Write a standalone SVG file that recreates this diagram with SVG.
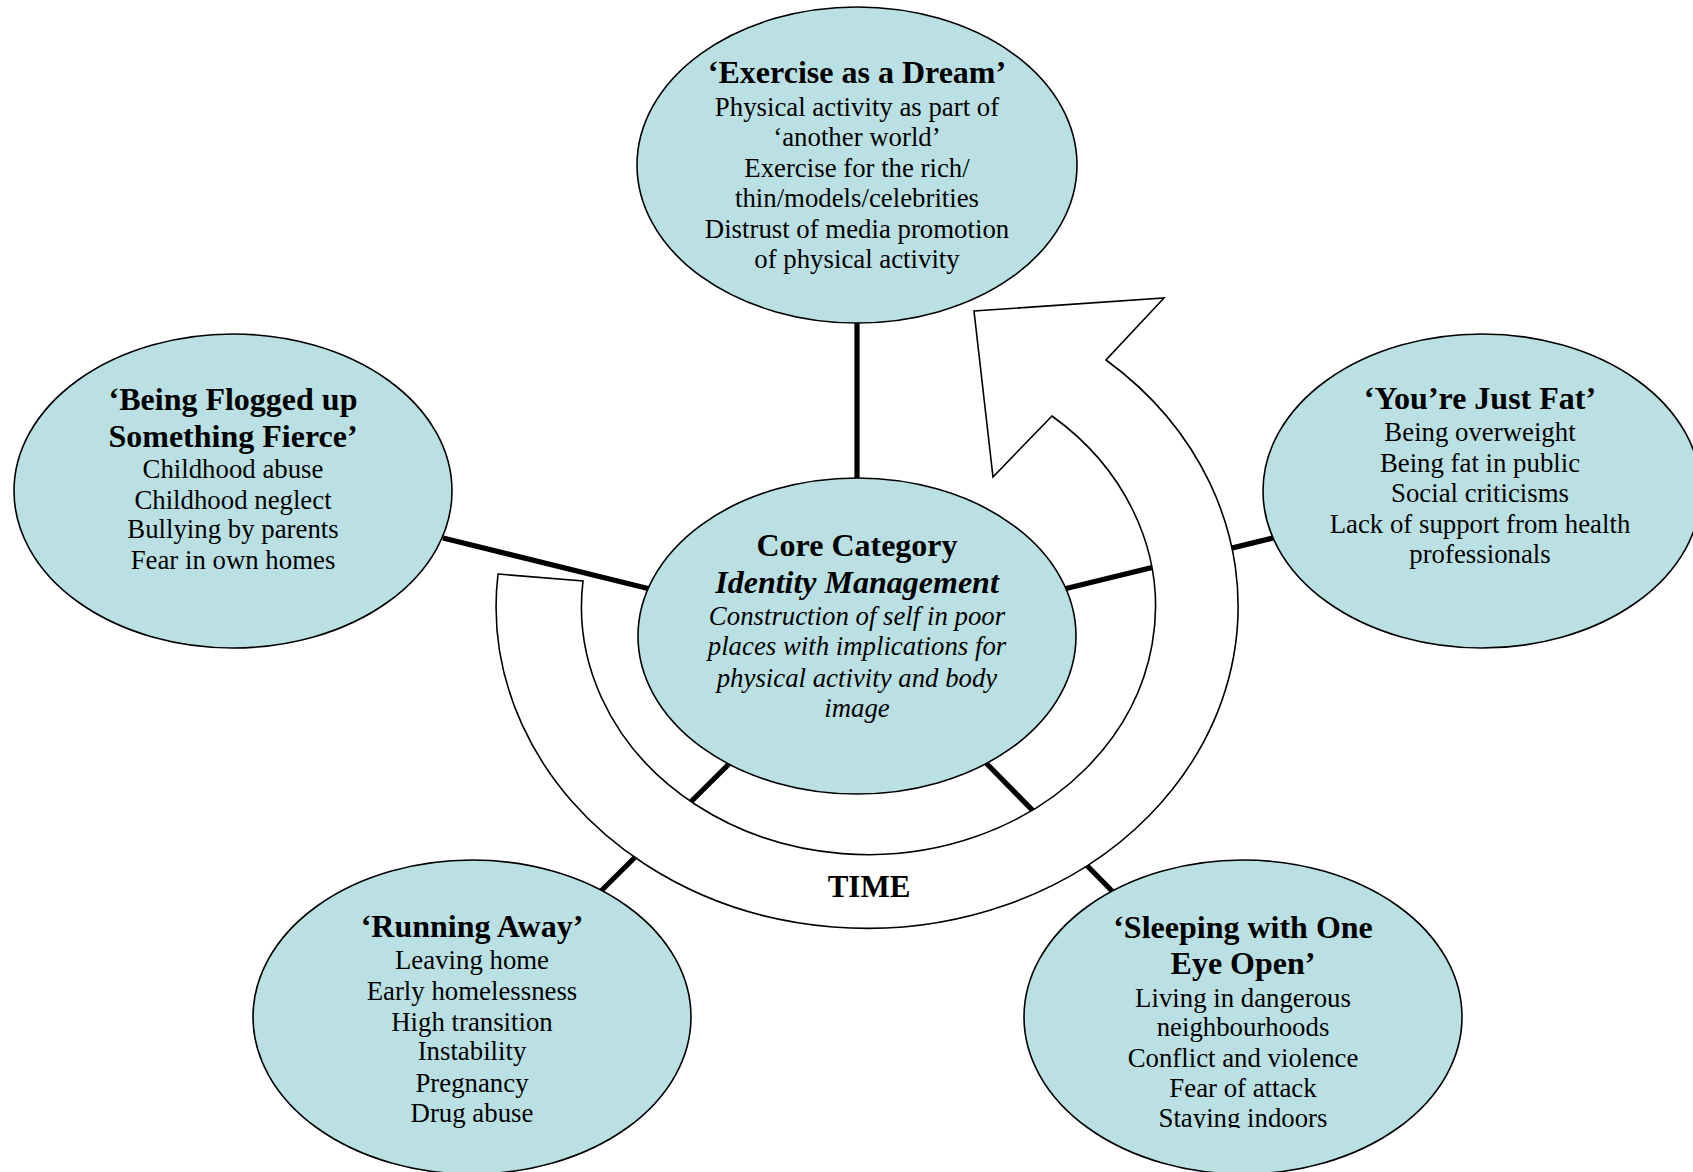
<svg xmlns="http://www.w3.org/2000/svg" width="1693" height="1172" viewBox="0 0 1693 1172">
<style>
.node{fill:#BAE0E3;stroke:#000;stroke-width:1.6}
.t{font-family:"Liberation Serif","Times New Roman",serif;font-size:26.8px;fill:#000;text-anchor:middle}
.h{font-weight:bold;font-size:32px}
.i{font-style:italic}
.time{font-size:31px}
.conn{stroke:#000;stroke-width:5.2;fill:none}
.band{fill:#fff;stroke:#000;stroke-width:1.6;stroke-linejoin:miter}
</style>
<defs>
<clipPath id="clipSleep"><rect x="900" y="850" width="700" height="278"/></clipPath>
</defs>
<rect width="1693" height="1172" fill="#fff"/>
<g id="connectors">
<line class="conn" x1="857" y1="320" x2="857" y2="480"/>
<line class="conn" x1="443" y1="538" x2="650" y2="589"/>
<line class="conn" x1="1064" y1="589" x2="1277" y2="537"/>
<line class="conn" x1="730" y1="763" x2="599" y2="893"/>
<line class="conn" x1="986" y1="763" x2="1114" y2="893"/>
</g>
<g id="time-arrow">
<path class="band" d="M498,574 L583,581 A287,248 0 1 0 1052,416 L993,477 L974,311 L1164,298 L1106,360 A371,322 0 1 1 498,574 Z"/>
<text class="t h time" x="869" y="897">TIME</text>
</g>
<g id="node-dream">
<ellipse class="node" cx="857" cy="165" rx="220" ry="158"/>
<text class="t h" x="857" y="83">‘Exercise as a Dream’</text>
<text class="t" x="857" y="116">Physical activity as part of</text>
<text class="t" x="857" y="146">‘another world’</text>
<text class="t" x="857" y="177">Exercise for the rich/</text>
<text class="t" x="857" y="207">thin/models/celebrities</text>
<text class="t" x="857" y="238">Distrust of media promotion</text>
<text class="t" x="857" y="268">of physical activity</text>
</g>
<g id="node-flogged">
<ellipse class="node" cx="233" cy="491" rx="219" ry="157"/>
<text class="t h" x="233" y="410">‘Being Flogged up</text>
<text class="t h" x="233" y="447">Something Fierce’</text>
<text class="t" x="233" y="478">Childhood abuse</text>
<text class="t" x="233" y="509">Childhood neglect</text>
<text class="t" x="233" y="538">Bullying by parents</text>
<text class="t" x="233" y="569">Fear in own homes</text>
</g>
<g id="node-fat">
<ellipse class="node" cx="1482" cy="491" rx="219" ry="157"/>
<text class="t h" x="1480" y="409">‘You’re Just Fat’</text>
<text class="t" x="1480" y="441">Being overweight</text>
<text class="t" x="1480" y="472">Being fat in public</text>
<text class="t" x="1480" y="502">Social criticisms</text>
<text class="t" x="1480" y="533">Lack of support from health</text>
<text class="t" x="1480" y="563">professionals</text>
</g>
<g id="node-core">
<ellipse class="node" cx="857" cy="636" rx="219" ry="158"/>
<text class="t h" x="857" y="556">Core Category</text>
<text class="t h i" x="857" y="593">Identity Management</text>
<text class="t i" x="857" y="625">Construction of self in poor</text>
<text class="t i" x="857" y="655">places with implications for</text>
<text class="t i" x="857" y="687">physical activity and body</text>
<text class="t i" x="857" y="717">image</text>
</g>
<g id="node-running">
<ellipse class="node" cx="472" cy="1017" rx="219" ry="157"/>
<text class="t h" x="472" y="937">‘Running Away’</text>
<text class="t" x="472" y="969">Leaving home</text>
<text class="t" x="472" y="1000">Early homelessness</text>
<text class="t" x="472" y="1031">High transition</text>
<text class="t" x="472" y="1060">Instability</text>
<text class="t" x="472" y="1092">Pregnancy</text>
<text class="t" x="472" y="1122">Drug abuse</text>
</g>
<g id="node-sleeping">
<ellipse class="node" cx="1243" cy="1017" rx="219" ry="157"/>
<text class="t h" x="1243" y="938">‘Sleeping with One</text>
<text class="t h" x="1243" y="974">Eye Open’</text>
<text class="t" x="1243" y="1007">Living in dangerous</text>
<text class="t" x="1243" y="1036">neighbourhoods</text>
<text class="t" x="1243" y="1067">Conflict and violence</text>
<text class="t" x="1243" y="1097">Fear of attack</text>
<text class="t" x="1243" y="1127" clip-path="url(#clipSleep)">Staying indoors</text>
</g>
</svg>
